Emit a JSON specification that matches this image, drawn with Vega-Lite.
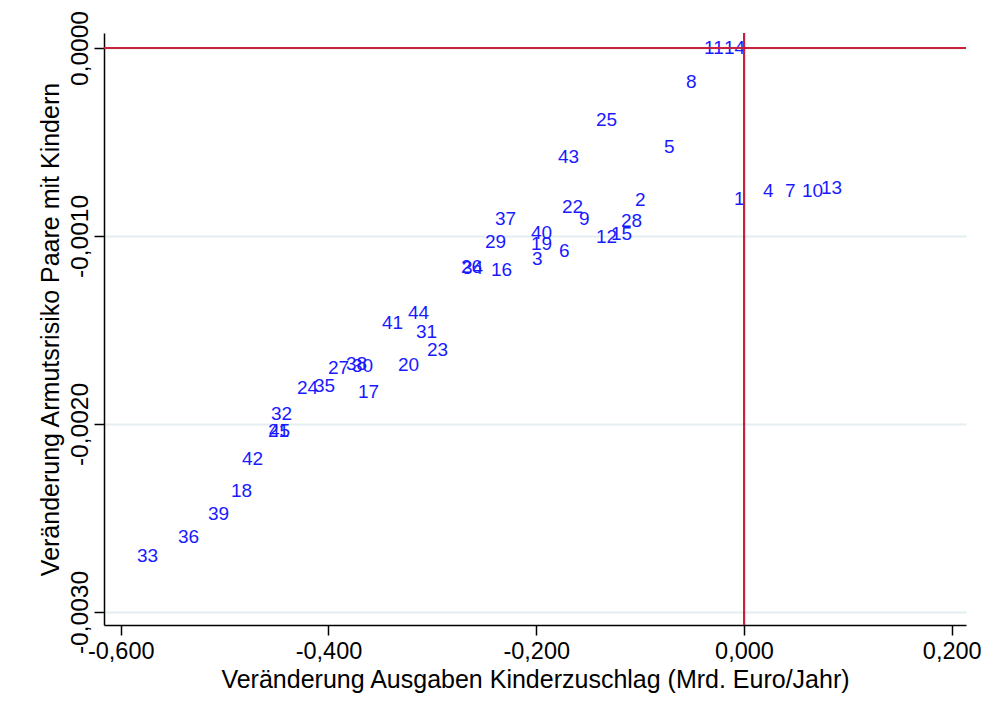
{
  "$schema": "https://vega.github.io/schema/vega-lite/v6.json",
  "width": 862,
  "height": 592,
  "autosize": {"type": "none"},
  "padding": {"left": 104, "top": 33, "right": 24, "bottom": 97},
  "background": "white",
  "config": {
    "view": {"stroke": null},
    "font": "Liberation Sans",
    "locale": {"number": {"decimal": ",", "thousands": ".", "grouping": [3], "currency": ["", " €"], "minus": "-"}}
  },
  "data": {"values": [
    {"id": "1", "x": -0.01155, "y": -0.000803},
    {"id": "2", "x": -0.1069, "y": -0.000809},
    {"id": "3", "x": -0.2060, "y": -0.001122},
    {"id": "4", "x": 0.01637, "y": -0.000761},
    {"id": "5", "x": -0.0789, "y": -0.000527},
    {"id": "6", "x": -0.1800, "y": -0.00108},
    {"id": "7", "x": 0.0375, "y": -0.000761},
    {"id": "8", "x": -0.0578, "y": -0.000181},
    {"id": "9", "x": -0.1608, "y": -0.00091},
    {"id": "10", "x": 0.0539, "y": -0.000761},
    {"id": "11", "x": -0.0404, "y": 0.0},
    {"id": "12", "x": -0.1444, "y": -0.001005},
    {"id": "13", "x": 0.0722, "y": -0.000745},
    {"id": "14", "x": -0.0212, "y": 0.0},
    {"id": "15", "x": -0.1300, "y": -0.000989},
    {"id": "16", "x": -0.2455, "y": -0.001181},
    {"id": "17", "x": -0.3735, "y": -0.00183},
    {"id": "18", "x": -0.4958, "y": -0.002356},
    {"id": "19", "x": -0.2070, "y": -0.001043},
    {"id": "20", "x": -0.3350, "y": -0.001686},
    {"id": "21", "x": -0.4602, "y": -0.002037},
    {"id": "22", "x": -0.1771, "y": -0.000846},
    {"id": "23", "x": -0.3071, "y": -0.001606},
    {"id": "24", "x": -0.4322, "y": -0.001809},
    {"id": "25", "x": -0.1444, "y": -0.000383},
    {"id": "26", "x": -0.2744, "y": -0.001165},
    {"id": "27", "x": -0.4024, "y": -0.001702},
    {"id": "28", "x": -0.1203, "y": -0.00092},
    {"id": "29", "x": -0.2513, "y": -0.001032},
    {"id": "30", "x": -0.3793, "y": -0.001691},
    {"id": "31", "x": -0.3177, "y": -0.001511},
    {"id": "32", "x": -0.4573, "y": -0.001947},
    {"id": "33", "x": -0.5863, "y": -0.002702},
    {"id": "34", "x": -0.2734, "y": -0.00117},
    {"id": "35", "x": -0.4159, "y": -0.001798},
    {"id": "36", "x": -0.5468, "y": -0.002601},
    {"id": "37", "x": -0.2416, "y": -0.00091},
    {"id": "38", "x": -0.3851, "y": -0.001681},
    {"id": "39", "x": -0.5179, "y": -0.002479},
    {"id": "40", "x": -0.2070, "y": -0.000984},
    {"id": "41", "x": -0.3504, "y": -0.001463},
    {"id": "42", "x": -0.4852, "y": -0.002186},
    {"id": "43", "x": -0.1810, "y": -0.00058},
    {"id": "44", "x": -0.3254, "y": -0.00141},
    {"id": "45", "x": -0.4592, "y": -0.002037}
  ]},
  "encoding": {
    "x": {"field": "x", "type": "quantitative",
      "scale": {"domain": [-0.6161, 0.2137], "nice": false, "zero": false},
      "axis": {"values": [-0.6, -0.4, -0.2, 0, 0.2], "format": ".3f", "grid": false,
        "title": "Veränderung Ausgaben Kinderzuschlag (Mrd. Euro/Jahr)",
        "domainColor": "black", "domainWidth": 1.5, "tickColor": "black", "tickWidth": 1.5, "tickSize": 10,
        "labelFontSize": 23.5, "labelColor": "black", "labelPadding": 4, "labelFlush": false,
        "titleFontSize": 25, "titleFontWeight": "normal", "titleColor": "black", "titlePadding": 5}},
    "y": {"field": "y", "type": "quantitative",
      "scale": {"domain": [-0.003069, 0.0000798], "nice": false, "zero": false},
      "axis": {"values": [0, -0.001, -0.002, -0.003], "format": ".4f",
        "grid": true, "gridColor": "#e4edf0", "gridWidth": 2,
        "title": "Veränderung Armutsrisiko Paare mit Kindern",
        "domainColor": "black", "domainWidth": 1.5, "tickColor": "black", "tickWidth": 1.5, "tickSize": 10,
        "labelFontSize": 24.5, "labelColor": "black", "labelAngle": 270, "labelAlign": "center", "labelBaseline": "bottom", "labelPadding": 2, "labelFlush": false,
        "titleFontSize": 25, "titleFontWeight": "normal", "titleColor": "black", "titlePadding": 4}}
  },
  "layer": [
    {"mark": {"type": "text", "align": "left", "baseline": "middle", "dx": 2, "fontSize": 19, "color": "#1a1aff"},
     "encoding": {"text": {"field": "id"}}},
    {"mark": {"type": "rule", "color": "#c8203f", "strokeWidth": 2},
     "encoding": {"y": {"datum": 0}, "x": null}},
    {"mark": {"type": "rule", "color": "#c8203f", "strokeWidth": 2},
     "encoding": {"x": {"datum": 0}, "y": null}}
  ]
}
